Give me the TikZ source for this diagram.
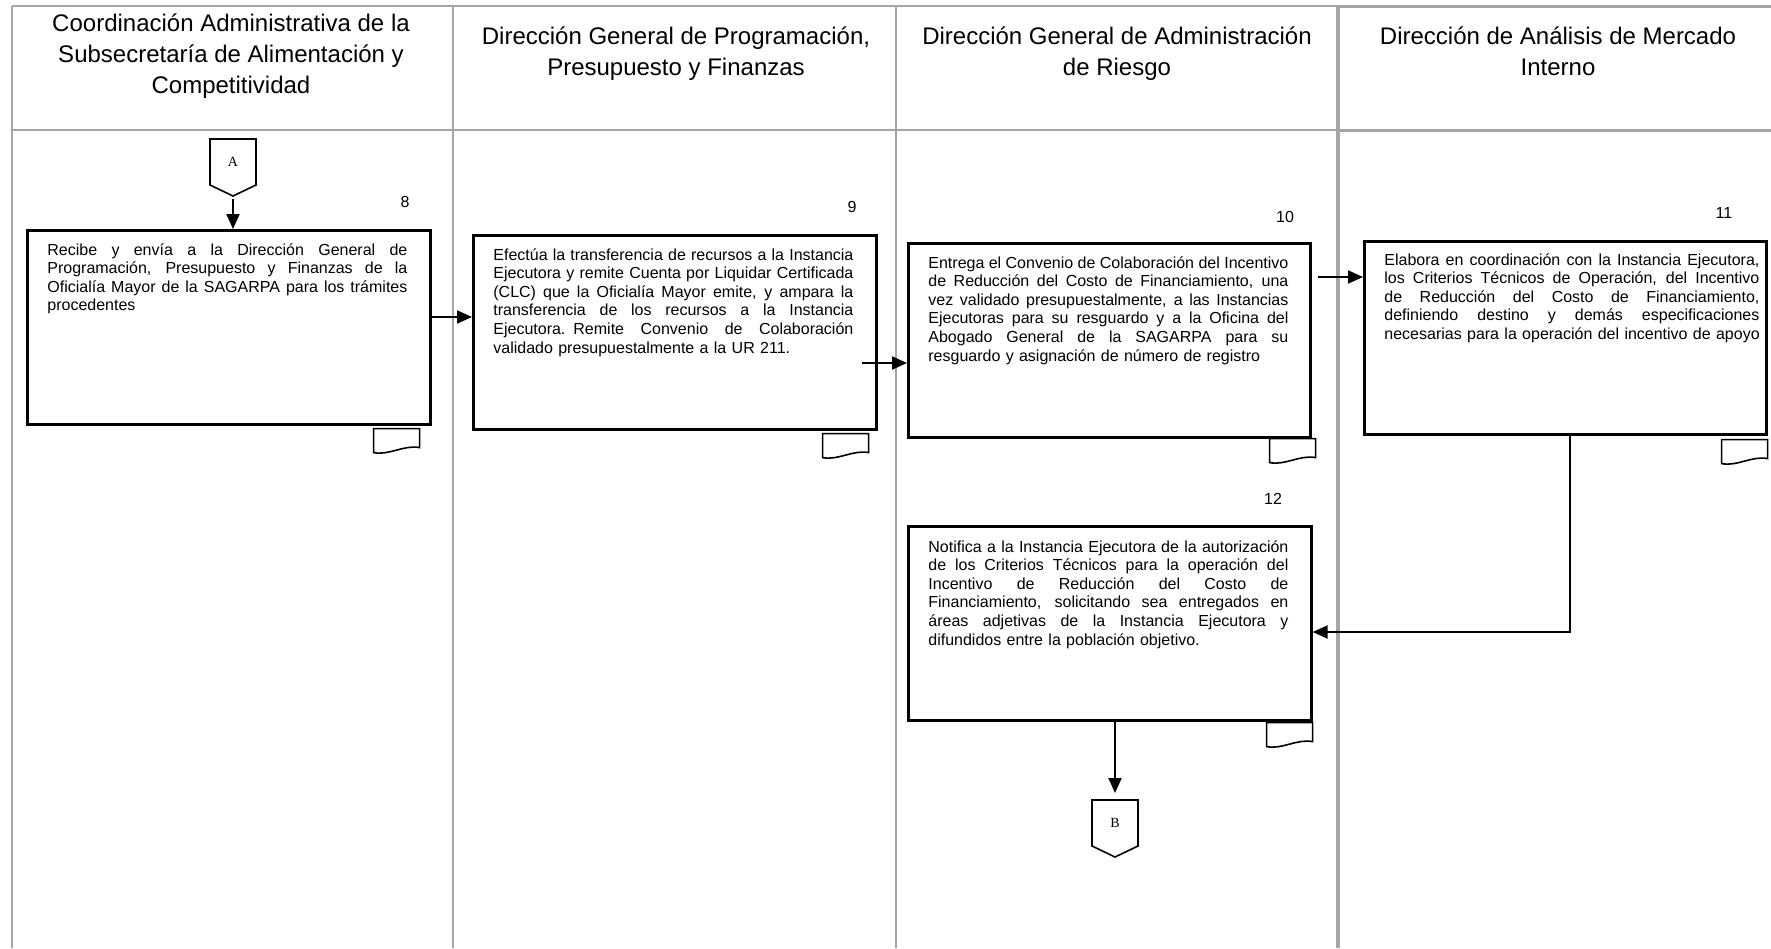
\documentclass[tikz,border=0pt]{standalone}
\usepackage{fontspec}
\setmainfont{Liberation Sans}
\newfontfamily\letterfont{Liberation Serif}
\usepackage{tikz}
\usetikzlibrary{calc}
\usetikzlibrary{arrows.meta}

\definecolor{lanegray}{HTML}{A5A5A5}
% one justified line of a step text
\newcommand{\jl}[2][180pt]{\leavevmode\hbox to #1{\spaceskip=0.28em plus 2em minus 0.08em\relax #2}\\}

\tikzset{
  lane/.style={draw=lanegray, line width=1pt},
  head/.style={anchor=base, align=center, inner sep=0pt, font=\fontsize{12}{15.5}\selectfont},
  stepbox/.style={draw, line width=1.3pt, anchor=north west, inner sep=0pt,
                  minimum width=201.5pt, minimum height=97pt},
  steptext/.style={anchor=base west, inner sep=0pt, text width=180pt, align=left,
                   font=\fontsize{8}{9.3}\selectfont},
  stepnum/.style={font=\fontsize{8}{9.3}\selectfont},
  flow/.style={line width=1pt, -{Triangle[length=7.5pt,width=6.5pt]}},
  docmark/.pic={
    \draw[line width=0.8pt] (0,0) -- (-46,0) -- (-46,24)
      .. controls (-30,27) and (-16,16) .. (0,19) -- cycle;
  },
  offpage/.pic={
    \draw[line width=0.8pt] (-23,0) -- (23,0) -- (23,46) -- (0,57) -- (-23,46) -- cycle;
    \node[font=\letterfont\fontsize{7}{8}\selectfont] at (0,23) {#1};
    \coordinate (-top) at (0,0);
    \coordinate (-tip) at (0,57);
  }
}

\begin{document}
\begin{tikzpicture}[x=0.5pt,y=-0.5pt]

\fill[white] (0,0) rectangle (1771,948);
\useasboundingbox (0,0) rectangle (1771,948);

% Lane grid
\draw[lane] (12,6) -- (1338,6);
\draw[lane] (12,130) -- (1338,130);
\foreach \x in {12,453,896} {
    \draw[lane] (\x,6) -- (\x,948);
}
\draw[lane, line width=1.5pt] (1338,6) -- (1771,6) (1338,130) -- (1771,130);
\draw[lane, line width=2pt] (1338,6) -- (1338,948);

% Lane headers (anchored at the last line)
\node[head] (h1) at (231,93) {Coordinación Administrativa de la\\Subsecretaría de Alimentación y\\Competitividad};
\node[head] (h2) at (676,75) {Dirección General de Programación,\\Presupuesto y Finanzas};
\node[head] (h3) at (1117,75) {Dirección General de Administración\\de Riesgo};
\node[head] (h4) at (1558,75) {Dirección de Análisis de Mercado\\Interno};

% Off-page connectors
\pic (A) at (233,139) {offpage=A};
\pic (B) at (1115,800) {offpage=B};

% Step boxes
\node[stepbox] (b8) at (26,229) {};
\node[stepbox] (b9) at (472,234) {};
\node[stepbox, minimum width=201pt] (b10) at (907,242) {};
\node[stepbox, minimum width=201pt, minimum height=96.5pt] (b11) at (1363,240) {};
\node[stepbox] (b12) at (907,525) {};

% Step numbers
\node[stepnum] (n8) at (405,202) {8};
\node[stepnum] (n9) at (852,207) {9};
\node[stepnum] (n10) at (1285,217) {10};
\node[stepnum] (n11) at (1724,213) {11};
\node[stepnum] (n12) at (1273,499) {12};

% Step texts
\node[steptext] (t8) at ($(b8.north west)+(21,26)$) {%
\jl{Recibe y envía a la Dirección General de}
\jl{Programación, Presupuesto y Finanzas de la}
\jl{Oficialía Mayor de la SAGARPA para los trámites}
procedentes};
\node[steptext] (t9) at ($(b9.north west)+(21,26)$) {%
\jl{Efectúa la transferencia de recursos a la Instancia}
\jl{Ejecutora y remite Cuenta por Liquidar Certificada}
\jl{(CLC) que la Oficialía Mayor emite, y ampara la}
\jl{transferencia de los recursos a la Instancia}
\jl{Ejecutora. Remite Convenio de Colaboración}
validado presupuestalmente a la UR 211.};
\node[steptext] (t10) at ($(b10.north west)+(21,26)$) {%
\jl{Entrega el Convenio de Colaboración del Incentivo}
\jl{de Reducción del Costo de Financiamiento, una}
\jl{vez validado presupuestalmente, a las Instancias}
\jl{Ejecutoras para su resguardo y a la Oficina del}
\jl{Abogado General de la SAGARPA para su}
resguardo y asignación de número de registro};
\node[steptext, text width=187.5pt] (t11) at ($(b11.north west)+(21,25)$) {%
\jl[187.5pt]{Elabora en coordinación con la Instancia Ejecutora,}
\jl[187.5pt]{los Criterios Técnicos de Operación, del Incentivo}
\jl[187.5pt]{de Reducción del Costo de Financiamiento,}
\jl[187.5pt]{definiendo destino y demás especificaciones}
\leavevmode\hbox to 187.5pt{necesarias para la operación del incentivo de apoyo}};
\node[steptext] (t12) at ($(b12.north west)+(21,27)$) {%
\jl{Notifica a la Instancia Ejecutora de la autorización}
\jl{de los Criterios Técnicos para la operación del}
\jl{Incentivo de Reducción del Costo de}
\jl{Financiamiento, solicitando sea entregados en}
\jl{áreas adjetivas de la Instancia Ejecutora y}
difundidos entre la población objetivo.};

% Document marks
\pic at ([shift={(-12,3)}]b8.south east) {docmark};
\pic at ([shift={(-9,3)}]b9.south east) {docmark};
\pic at ([shift={(4,0)}]b10.south east) {docmark};
\pic at ([shift={(0,4)}]b11.south east) {docmark};
\pic at ([shift={(0,1)}]b12.south east) {docmark};

% Flow
\coordinate (y89) at (0,317);
\coordinate (s910) at (862,363);
\coordinate (s1011) at (1318,277);
\coordinate (k1112) at (1570,632);
\draw[flow, shorten <=1.5pt] (A-tip) -- (A-tip |- b8.north);
\draw[flow] (b8.east |- y89) -- (b9.west |- y89);
\draw[flow] (s910) -- (b10.west |- s910);
\draw[flow] (s1011) -- (b11.west |- s1011);
\draw[flow] (b11.south -| k1112) |- (b12.east |- k1112);
\draw[flow, shorten >=3.5pt] (b12.south -| B-top) -- (B-top);

\end{tikzpicture}
\end{document}
